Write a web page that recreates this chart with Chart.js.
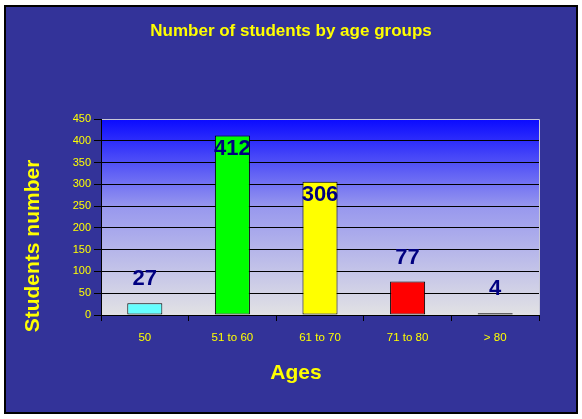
<!DOCTYPE html>
<html>
<head>
<meta charset="utf-8">
<script src="https://cdn.jsdelivr.net/npm/chart.js@4"></script>
<style>
    html, body { margin: 0; padding: 0; background: #ffffff; }
    #wrap { width: 582px; height: 419px; }
</style>
</head>
<body>
<div id="wrap"><canvas id="ageChart" width="582" height="419"></canvas></div>
<script>
/* =========================================================
   DATA
========================================================= */
const ageGroups = ['50', '51 to 60', '61 to 70', '71 to 80', '> 80'];
const studentCounts = [27, 412, 306, 77, 4];
const barColors = ['#66ffff', '#00ff00', '#ffff00', '#ff0000', '#808080'];
const yTicks = [0, 50, 100, 150, 200, 250, 300, 350, 400, 450];

const chartTitle = 'Number of students by age groups';
const xTitle = 'Ages';
const yTitle = 'Students number';

const panelBlue = '#333399';
const labelYellow = '#ffff00';
const valueNavy = '#000080';

/* =========================================================
   PLUGINS
========================================================= */
const backdrop = {
    id: 'backdrop',
    beforeDraw(chart) {
        const ctx = chart.ctx;
        const a = chart.chartArea;
        ctx.save();
        // outer panel
        ctx.fillStyle = '#ffffff';
        ctx.fillRect(0, 0, chart.width, chart.height);
        ctx.fillStyle = panelBlue;
        ctx.fillRect(4, 5, 574, 409);
        ctx.strokeStyle = '#000000';
        ctx.lineWidth = 2;
        ctx.strokeRect(5, 6, 572, 407);

        // plot gradient
        const g = ctx.createLinearGradient(0, a.top, 0, a.bottom);
        g.addColorStop(0, '#0a0aff');
        g.addColorStop(0.45, '#9898ee');
        g.addColorStop(1, '#e2e2e4');
        ctx.fillStyle = g;
        ctx.fillRect(a.left, a.top, a.right - a.left, a.bottom - a.top);

        // light frame top + right
        ctx.strokeStyle = '#c8c8d8';
        ctx.lineWidth = 1;
        ctx.beginPath();
        ctx.moveTo(a.left, a.top + 0.5);
        ctx.lineTo(a.right + 0.5, a.top + 0.5);
        ctx.lineTo(a.right + 0.5, a.bottom);
        ctx.stroke();
        ctx.restore();
    }
};

const texts = {
    id: 'texts',
    afterDraw(chart) {
        const ctx = chart.ctx;
        const a = chart.chartArea;
        ctx.save();
        ctx.fillStyle = labelYellow;
        ctx.textAlign = 'center';
        ctx.textBaseline = 'middle';

        ctx.font = 'bold 17px "Liberation Sans", Arial, sans-serif';
        ctx.fillText(chartTitle, 291, 31);

        ctx.font = 'bold 21px "Liberation Sans", Arial, sans-serif';
        ctx.fillText(xTitle, a.left + 195, 373);

        ctx.translate(33, 246);
        ctx.rotate(-Math.PI / 2);
        ctx.fillText(yTitle, 0, 0);
        ctx.restore();

        // value labels
        const meta = chart.getDatasetMeta(0);
        ctx.save();
        ctx.fillStyle = valueNavy;
        ctx.font = 'bold 22px "Liberation Sans", Arial, sans-serif';
        ctx.textAlign = 'center';
        ctx.textBaseline = 'middle';
        meta.data.forEach((bar, i) => {
            const v = studentCounts[i];
            const y = v > 250 ? bar.y + 13 : bar.y - 24;
            ctx.fillText(String(v), bar.x, y);
        });
        ctx.restore();
    }
};

/* =========================================================
   CHART INIT
========================================================= */
new Chart(document.getElementById('ageChart'), {
    type: 'bar',
    data: {
        labels: ageGroups,
        datasets: [{
            data: studentCounts,
            backgroundColor: barColors,
            borderColor: '#000000',
            borderWidth: 1,
            borderSkipped: false,
            barPercentage: 0.4,
            categoryPercentage: 1
        }]
    },
    options: {
        responsive: false,
        animation: false,
        devicePixelRatio: 1,
        layout: {
            padding: { left: 0, right: 43, top: 119, bottom: 0 }
        },
        plugins: {
            legend: { display: false },
            title: { display: false },
            tooltip: { enabled: false }
        },
        scales: {
            x: {
                afterFit(scale) { scale.height = 104; },
                grid: {
                    offset: true,
                    drawOnChartArea: false,
                    color: '#000000',
                    tickLength: 6
                },
                border: { color: '#000000', width: 1 },
                ticks: {
                    color: labelYellow,
                    padding: 10,
                    font: { family: '"Liberation Sans", Arial, sans-serif', size: 11.5 }
                }
            },
            y: {
                min: 0,
                max: 450,
                afterFit(scale) { scale.width = 101; },
                afterBuildTicks(scale) {
                    scale.ticks = yTicks.map(v => ({ value: v }));
                },
                grid: {
                    color: ctx => (ctx.tick && ctx.tick.value === 450) ? 'rgba(0,0,0,0)' : '#000000',
                    tickColor: '#000000',
                    tickLength: 7
                },
                border: { color: '#000000', width: 1 },
                ticks: {
                    color: labelYellow,
                    padding: 3,
                    font: { family: '"Liberation Sans", Arial, sans-serif', size: 11 }
                }
            }
        }
    },
    plugins: [backdrop, texts]
});
</script>
</body>
</html>
